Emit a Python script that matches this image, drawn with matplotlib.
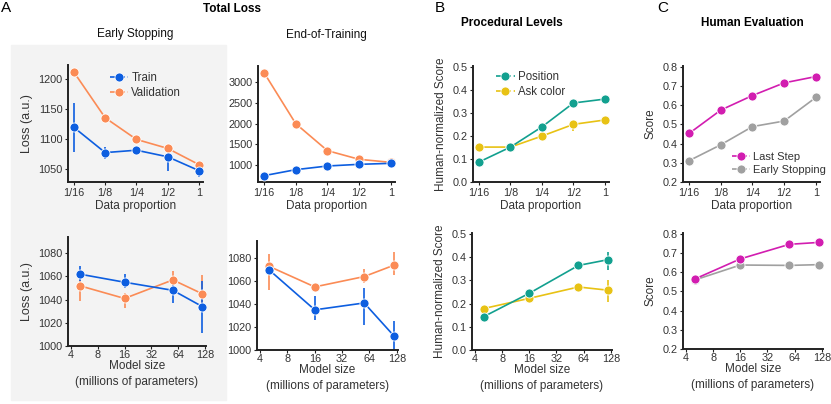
import matplotlib
matplotlib.use("Agg")
import matplotlib.pyplot as plt
from matplotlib.lines import Line2D
from matplotlib.patches import Rectangle
import numpy as np

plt.rcParams['font.family'] = ['Liberation Sans', 'DejaVu Sans']

W, H = 831, 404

# ---- data ----
proportions = ["1/16", "1/8", "1/4", "1/2", "1"]
model_sizes = [5, 16, 56, 120]

# Total loss, early stopping vs data proportion
es_train = [1120, 1078, 1082, 1071, 1048]
es_train_lo = [1079, 1068, 1078, 1047, 1037]
es_train_hi = [1160, 1087, 1085, 1079, 1056]
es_val = [1212, 1136, 1100, 1085, 1058]
es_val_lo = [1210, 1134, 1097, 1078, 1054]
es_val_hi = [1214, 1138, 1103, 1093, 1062]

# Total loss, end of training vs data proportion
eot_train = [752, 896, 984, 1024, 1048]
eot_val = [3224, 2000, 1352, 1144, 1072]

# Total loss, early stopping vs model size
es_m_train = [1062, 1055, 1048, 1034]
es_m_train_lo = [1056, 1050, 1037, 1011]
es_m_train_hi = [1069, 1062, 1054, 1056]
es_m_val = [1052, 1041, 1057, 1045]
es_m_val_lo = [1039, 1033, 1051, 1029]
es_m_val_hi = [1057, 1046, 1065, 1061]

# Total loss, end of training vs model size
eot_m_train = [1070, 1035, 1041, 1012]
eot_m_train_lo = [1066, 1026, 1022, 1001]
eot_m_train_hi = [1073, 1047, 1054, 1025]
eot_m_val = [1073, 1055, 1064, 1074]
eot_m_val_lo = [1052, 1053, 1058, 1065]
eot_m_val_hi = [1084, 1057, 1071, 1085]

# Procedural levels
pos_d = [0.087, 0.152, 0.240, 0.344, 0.361]
pos_d_lo = [0.068, 0.148, 0.235, 0.340, 0.357]
pos_d_hi = [0.105, 0.156, 0.245, 0.348, 0.365]
ask_d = [0.152, 0.152, 0.200, 0.251, 0.270]
ask_d_lo = [0.148, 0.148, 0.196, 0.220, 0.266]
ask_d_hi = [0.156, 0.156, 0.204, 0.255, 0.274]
pos_m = [0.144, 0.245, 0.365, 0.390]
pos_m_lo = [0.140, 0.240, 0.360, 0.346]
pos_m_hi = [0.148, 0.250, 0.370, 0.425]
ask_m = [0.179, 0.223, 0.272, 0.258]
ask_m_lo = [0.175, 0.219, 0.268, 0.209]
ask_m_hi = [0.183, 0.227, 0.276, 0.303]

# Human evaluation
last_d = [0.453, 0.575, 0.651, 0.717, 0.750]
early_d = [0.311, 0.394, 0.489, 0.518, 0.641]
last_m = [0.565, 0.670, 0.746, 0.756]
early_m = [0.560, 0.638, 0.636, 0.640]

BLUE = "#0d5ee0"
ORANGE = "#fb8b55"
TEAL = "#12a08f"
YELLOW = "#e8c214"
MAGENTA = "#d21db0"
GREY = "#a0a0a0"
TXT = "#333333"

fig = plt.figure(figsize=(W / 100, H / 100), dpi=100)

# grey background of panel A (early stopping)
fig.patches.append(Rectangle((11 / W, 1 - 400 / H), 215 / W, 355 / H,
                             transform=fig.transFigure, color="#f3f3f3",
                             zorder=-10))


def make_ax(l, r, t, b):
    ax = fig.add_axes([l / W, 1 - b / H, (r - l) / W, (b - t) / H])
    ax.patch.set_alpha(0)
    for s in ["top", "right"]:
        ax.spines[s].set_visible(False)
    for s in ["left", "bottom"]:
        ax.spines[s].set_linewidth(1.4)
        ax.spines[s].set_color("#222222")
    ax.tick_params(labelsize=7.8, colors=TXT, length=2, width=0.8, pad=2)
    ax.tick_params(axis='both', color="#222222")
    return ax


def series(ax, x, y, color, lo=None, hi=None):
    if lo is not None:
        ax.vlines(x, lo, hi, color=color, lw=1.2, zorder=2)
    ax.plot(x, y, color=color, lw=1.2, marker="o", ms=6.5,
            mec="white", mew=0.6, zorder=3)


def setup_prop(ax):
    ax.set_xticks(range(len(proportions)))
    ax.set_xticklabels(proportions)
    ax.set_xlim(-0.19, 4.13)
    ax.set_xlabel("Data proportion", fontsize=8.5, color=TXT, labelpad=2)


def setup_size(ax):
    ax.set_xscale("log", base=2)
    ax.set_xticks([4, 8, 16, 32, 64, 128])
    ax.set_xticklabels(["4", "8", "16", "32", "64", "128"])
    ax.minorticks_off()
    ax.set_xlim(3.7, 132)
    ax.tick_params(axis="x", pad=1)
    ax.set_xlabel("Model size\n(millions of parameters)", fontsize=8.5,
                  color=TXT, labelpad=0, linespacing=1.45)


def legend(ax, labels, colors, loc, anchor, size=8.3):
    handles = [Line2D([], [], color=c, ls="--", lw=1.2, marker="o", ms=6.5,
                      mec="white", mew=0.6) for c in colors]
    ax.legend(handles, labels, loc=loc, bbox_to_anchor=anchor, frameon=False,
              fontsize=size, handlelength=1.6, handletextpad=0.25,
              labelspacing=0.3, borderaxespad=0.2, labelcolor=TXT)


xp = np.arange(len(proportions))

# A: early stopping, data proportion
ax = make_ax(68, 203, 65, 182)
series(ax, xp, es_val, ORANGE, es_val_lo, es_val_hi)
series(ax, xp, es_train, BLUE, es_train_lo, es_train_hi)
setup_prop(ax)
ax.set_ylim(1029, 1224)
ax.set_yticks([1050, 1100, 1150, 1200])
ax.set_ylabel("Loss (a.u.)", fontsize=9, color=TXT)
legend(ax, ["Train", "Validation"], [BLUE, ORANGE], "upper left", (0.26, 1.0))
ax.set_title("Early Stopping", fontsize=8.5, color="#111111", pad=20)

# A: end of training, data proportion
ax = make_ax(258, 395, 66, 182)
series(ax, xp, eot_val, ORANGE)
series(ax, xp, eot_train, BLUE)
setup_prop(ax)
ax.set_ylim(600, 3384)
ax.set_yticks([1000, 1500, 2000, 2500, 3000])
ax.set_title("End-of-Training", fontsize=8.5, color="#111111", pad=20)

# A: early stopping, model size
ax = make_ax(68, 206, 237, 346)
series(ax, model_sizes, es_m_val, ORANGE, es_m_val_lo, es_m_val_hi)
series(ax, model_sizes, es_m_train, BLUE, es_m_train_lo, es_m_train_hi)
setup_size(ax)
ax.set_ylim(1000, 1094)
ax.set_yticks([1000, 1020, 1040, 1060, 1080])
ax.set_ylabel("Loss (a.u.)", fontsize=9, color=TXT)

# A: end of training, model size
ax = make_ax(257, 398, 241, 350)
series(ax, model_sizes, eot_m_val, ORANGE, eot_m_val_lo, eot_m_val_hi)
series(ax, model_sizes, eot_m_train, BLUE, eot_m_train_lo, eot_m_train_hi)
setup_size(ax)
ax.set_ylim(1000, 1095)
ax.set_yticks([1000, 1020, 1040, 1060, 1080])

# B: procedural levels
ax = make_ax(473, 609, 66, 182)
series(ax, xp, ask_d, YELLOW, ask_d_lo, ask_d_hi)
series(ax, xp, pos_d, TEAL, pos_d_lo, pos_d_hi)
setup_prop(ax)
ax.set_ylim(0, 0.505)
ax.set_yticks([0, 0.1, 0.2, 0.3, 0.4, 0.5])
ax.set_ylabel("Human-normalized Score", fontsize=8.5, color=TXT)
legend(ax, ["Position", "Ask color"], [TEAL, YELLOW], "upper left", (0.12, 1.02))

ax = make_ax(472, 612, 233, 350)
series(ax, model_sizes, ask_m, YELLOW, ask_m_lo, ask_m_hi)
series(ax, model_sizes, pos_m, TEAL, pos_m_lo, pos_m_hi)
setup_size(ax)
ax.set_ylim(0, 0.505)
ax.set_yticks([0, 0.1, 0.2, 0.3, 0.4, 0.5])
ax.set_ylabel("Human-normalized Score", fontsize=8.5, color=TXT)

# C: human evaluation
ax = make_ax(683, 820, 66, 182)
series(ax, xp, early_d, GREY)
series(ax, xp, last_d, MAGENTA)
setup_prop(ax)
ax.set_ylim(0.2, 0.805)
ax.set_yticks([0.2, 0.3, 0.4, 0.5, 0.6, 0.7, 0.8])
ax.set_ylabel("Score", fontsize=8.5, color=TXT)
legend(ax, ["Last Step", "Early Stopping"], [MAGENTA, GREY], "lower left",
       (0.31, 0.0), size=8)

ax = make_ax(683, 823, 233, 349)
series(ax, model_sizes, early_m, GREY)
series(ax, model_sizes, last_m, MAGENTA)
setup_size(ax)
ax.set_ylim(0.2, 0.805)
ax.set_yticks([0.2, 0.3, 0.4, 0.5, 0.6, 0.7, 0.8])
ax.set_ylabel("Score", fontsize=8.5, color=TXT)

# headers and panel letters
fig.text(232 / W, 1 - 9 / H, "Total Loss", fontsize=8.5, fontweight="bold",
         ha="center", va="center")
fig.text(512 / W, 1 - 23 / H, "Procedural Levels", fontsize=8.5,
         fontweight="bold", ha="center", va="center")
fig.text(752 / W, 1 - 23 / H, "Human Evaluation", fontsize=8.5,
         fontweight="bold", ha="center", va="center")
for x, letter in [(1, "A"), (435, "B"), (657, "C")]:
    fig.text(x / W, 1 - 8 / H, letter, fontsize=11, ha="left", va="center")

fig.savefig("out.png", dpi=100)
